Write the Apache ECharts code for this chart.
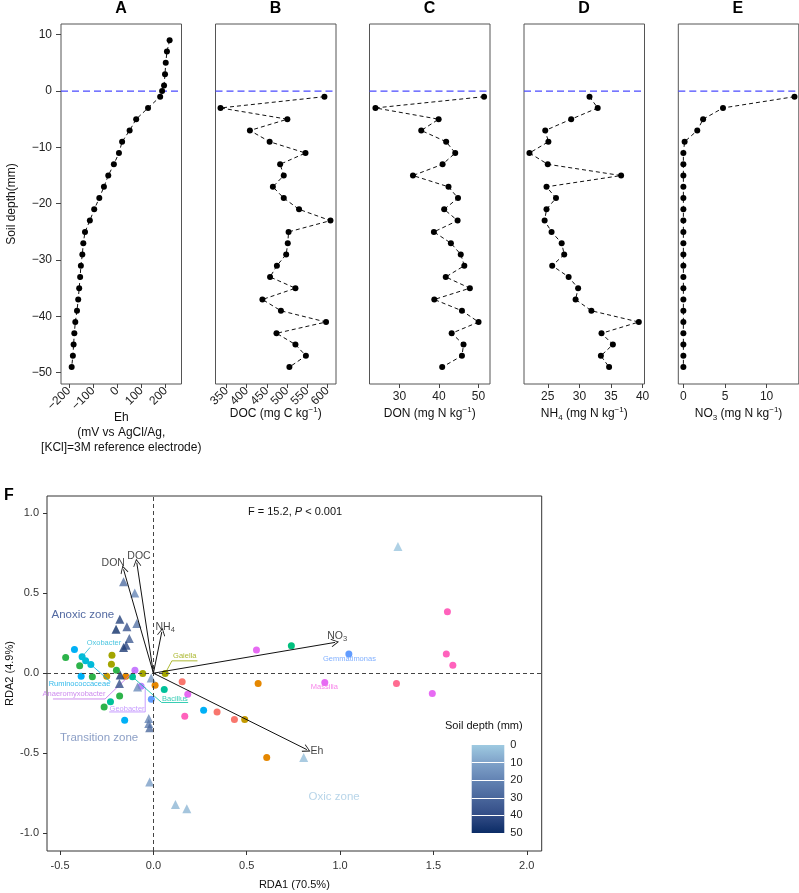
<!DOCTYPE html>
<html>
<head>
<meta charset="utf-8">
<script src="https://cdn.jsdelivr.net/npm/echarts@6/dist/echarts.min.js"></script>
<style>
html, body { margin: 0; padding: 0; background: #fff; }
#chart { width: 799px; height: 893px; }
</style>
</head>
<body>
<div id="chart"></div>
<script>
// ---- depth profiles (panels A-E) ----
const depthEh = [9, 7, 5, 3, 1, 0, -1, -3, -5, -7, -9, -11, -13, -15, -17, -19, -21, -23, -25, -27, -29, -31, -33, -35, -37, -39, -41, -43, -45, -47, -49];
const ehValues = [216, 205, 200, 197, 193, 185, 177, 127, 78, 51, 20, 7, -14, -37, -55, -74, -95, -113, -133, -140, -144, -150, -153, -157, -161, -166, -173, -177, -180, -183, -188];
const depthCore = [-1, -3, -5, -7, -9, -11, -13, -15, -17, -19, -21, -23, -25, -27, -29, -31, -33, -35, -37, -39, -41, -43, -45, -47, -49];
const docValues = [593, 335, 501, 408, 457, 546, 483, 492, 465, 492, 530, 608, 504, 502, 498, 475, 458, 521, 439, 485, 597, 474, 521, 547, 506];
const donValues = [51.4, 23.9, 39.9, 35.5, 41.8, 44.1, 40.9, 33.4, 42.4, 44.8, 41.3, 44.7, 38.7, 43.0, 45.5, 46.4, 41.7, 47.8, 38.8, 45.8, 50.0, 43.2, 46.2, 45.8, 40.8];
const nh4Values = [31.6, 32.9, 28.7, 24.6, 25.1, 22.1, 25.0, 36.6, 24.8, 26.3, 24.8, 24.5, 25.6, 27.2, 27.6, 25.7, 28.3, 29.8, 29.4, 31.9, 39.4, 33.5, 35.3, 33.4, 34.7];
const no3Values = [13.35, 4.76, 2.37, 1.67, 0.15, 0, 0, 0, 0, 0, 0, 0, 0, 0, 0, 0, 0, 0, 0, 0, 0, 0, 0, 0, 0];

const depthTicks = [10, 0, -10, -20, -30, -40, -50];
const ehTicks = [-200, -100, 0, 100, 200];
const docTicks = [350, 400, 450, 500, 550, 600];
const donTicks = [30, 40, 50];
const nh4Ticks = [25, 30, 35, 40];
const no3Ticks = [0, 5, 10];

// ---- RDA (panel F) ----
const envNames = ['DON', 'DOC', 'NH{sub|4}', 'NO{sub|3}', 'Eh'];
const envX = [-0.16, -0.089, 0.045, 0.973, 0.822];
const envY = [0.648, 0.69, 0.258, 0.192, -0.477];
const envLabelX = [-0.215, -0.077, 0.063, 0.984, 0.876];
const envLabelY = [0.686, 0.731, 0.289, 0.231, -0.4875];

const sampleX = [1.31, 0.805, 0.118, 0.179, -0.02, -0.025, -0.025, -0.02, -0.085, -0.012, -0.16, -0.10, -0.18, -0.20, -0.142, -0.089, -0.129, -0.146, -0.16, -0.178, -0.182];
const sampleY = [0.79, -0.527, -0.82, -0.846, -0.68, -0.283, -0.314, -0.34, -0.086, -0.03, 0.57, 0.50, 0.336, 0.275, 0.29, 0.31, 0.217, 0.175, 0.16, -0.012, -0.064];
const sampleDepth = [1, 3, 5, 5, 11, 19, 23, 29, 17, 15, 27, 19, 43, 49, 37, 25, 33, 41, 45, 47, 39];

const taxa = [
  { color: '#00B0F6', pts: [[-0.423, 0.148], [-0.387, -0.019], [-0.154, -0.294], [0.269, -0.231]] },
  { color: '#00BCD8', pts: [[-0.382, 0.102], [-0.363, 0.077], [-0.335, 0.054]] },
  { color: '#2DB34A', pts: [[-0.47, 0.098], [-0.395, 0.046], [-0.327, -0.023], [-0.198, 0.019], [-0.181, -0.142], [-0.264, -0.211]] },
  { color: '#00C19A', pts: [[-0.23, -0.179], [-0.112, -0.023], [0.058, -0.102]] },
  { color: '#A3A500', pts: [[-0.222, 0.1125], [-0.225, 0.056], [-0.057, -0.002], [0.063, -0.002]] },
  { color: '#C49A00', pts: [[-0.25, -0.019], [0.489, -0.289]] },
  { color: '#E58700', pts: [[-0.148, -0.019], [0.009, -0.075], [0.561, -0.064], [0.607, -0.527]] },
  { color: '#C77CFF', pts: [[-0.099, 0.019]] },
  { color: '#B983FF', pts: [[-0.066, -0.081]] },
  { color: '#619CFF', pts: [[-0.011, -0.1625], [1.047, 0.119]] },
  { color: '#F8766D', pts: [[0.154, -0.054], [0.341, -0.242], [0.434, -0.289]] },
  { color: '#FF6C91', pts: [[1.302, -0.064]] },
  { color: '#E76BF3', pts: [[0.184, -0.131], [0.552, 0.144], [0.918, -0.058], [1.494, -0.127]] },
  { color: '#FF62BC', pts: [[0.168, -0.269], [1.575, 0.383], [1.569, 0.119], [1.604, 0.05]] },
  { color: '#00BF7D', pts: [[0.739, 0.171]] }
];

const taxonLabels = [
  { text: 'Oxobacter', color: '#1FB8D8', at: [-0.265, 0.186], line: [[-0.339, 0.161], [-0.387, 0.096]] },
  { text: 'Ruminococcaceae', color: '#00A9E6', at: [-0.396, -0.069], line: [[-0.23, -0.054], [-0.335, 0.054]] },
  { text: 'Anaeromyxobacter', color: '#C06EEA', at: [-0.425, -0.131], line: [[-0.538, -0.161], [-0.259, -0.161], [-0.099, 0.019]] },
  { text: 'Geobacter', color: '#B983FF', at: [-0.141, -0.225], line: [[-0.237, -0.242], [-0.044, -0.242], [-0.044, -0.086]] },
  { text: 'Bacillus', color: '#00BFA0', at: [0.115, -0.1625], line: [[0.186, -0.183], [0.044, -0.183], [-0.112, -0.023]] },
  { text: 'Gaiella', color: '#99A800', at: [0.168, 0.106], line: [[0.236, 0.077], [0.099, 0.077], [0.063, -0.002]] },
  { text: 'Gemmatimonas', color: '#619CFF', at: [1.05, 0.0875], line: null },
  { text: 'Massilia', color: '#F564E3', at: [0.916, -0.0875], line: null }
];

const zoneNames = ['Anoxic zone', 'Transition zone', 'Oxic zone'];
const zoneX = [-0.378, -0.291, 0.968];
const zoneY = [0.3625, -0.404, -0.773];
const zoneColors = ['#27448A', '#6F87B8', '#A6CBE3'];

const rdaXTicks = [-0.5, 0, 0.5, 1.0, 1.5, 2.0];
const rdaYTicks = [-1.0, -0.5, 0, 0.5, 1.0];
const legendTicks = [0, 10, 20, 30, 40, 50];
const depthColors = ['#9ecae1', '#7fa2c9', '#6383b3', '#4a679c', '#324c86', '#0b2c66'];

const FONT = 'Liberation Sans, Arial, Helvetica, sans-serif';
const minus = v => String(v).replace('-', '\u2212');
const richAxis = {
  sup: { fontSize: 8, verticalAlign: 'top', lineHeight: 16, fontFamily: FONT, color: '#111' },
  sub: { fontSize: 8, verticalAlign: 'bottom', lineHeight: 16, fontFamily: FONT, color: '#111' }
};

const panels = [
  { x: ehValues, depth: depthEh, ticks: ehTicks, min: -232, max: 265, left: 61, rotate: 45, nameGap: 26,
    name: 'Eh\n(mV vs AgCl/Ag,\n[KCl]=3M reference electrode)', letter: 'A' },
  { x: docValues, depth: depthCore, ticks: docTicks, min: 322.6, max: 621.7, left: 215.5, rotate: 45, nameGap: 22,
    name: 'DOC (mg C kg{sup|\u22121})', letter: 'B' },
  { x: donValues, depth: depthCore, ticks: donTicks, min: 22.4, max: 52.9, left: 369.5, rotate: 0, nameGap: 22,
    name: 'DON (mg N kg{sup|\u22121})', letter: 'C' },
  { x: nh4Values, depth: depthCore, ticks: nh4Ticks, min: 21.24, max: 40.3, left: 524, rotate: 0, nameGap: 22,
    name: 'NH{sub|4} (mg N kg{sup|\u22121})', letter: 'D' },
  { x: no3Values, depth: depthCore, ticks: no3Ticks, min: -0.61, max: 13.87, left: 678.3, rotate: 0, nameGap: 22,
    name: 'NO{sub|3} (mg N kg{sup|\u22121})', letter: 'E' }
];
const PW = 120.5, PTOP = 24, PH = 360;

const grid = [], xAxis = [], yAxis = [], series = [], graphic = [];

panels.forEach((p, i) => {
  grid.push({ left: p.left, top: PTOP, width: PW, height: PH, show: true, borderColor: '#555', borderWidth: 1,
    outerBoundsMode: 'none' });
  xAxis.push({
    gridIndex: i, type: 'value', min: p.min, max: p.max, position: 'bottom',
    axisLine: { show: false, onZero: false }, splitLine: { show: false },
    axisTick: { show: true, length: 4, lineStyle: { color: '#444' }, customValues: p.ticks },
    axisLabel: { customValues: p.ticks, rotate: p.rotate, margin: p.rotate ? 5 : 7, fontSize: 12,
      color: '#222', fontFamily: FONT, formatter: minus },
    name: p.name, nameLocation: 'middle', nameGap: p.nameGap, nameMoveOverlap: false,
    nameTextStyle: { fontSize: 12, color: '#111', fontFamily: FONT, lineHeight: i === 0 ? 15 : 16, rich: richAxis }
  });
  yAxis.push({
    gridIndex: i, type: 'value', min: -52, max: 11.9, position: 'left',
    axisLine: { show: false, onZero: false }, splitLine: { show: false },
    axisTick: { show: i === 0, length: 5, lineStyle: { color: '#444' }, customValues: depthTicks },
    axisLabel: { show: i === 0, customValues: depthTicks, margin: 9, fontSize: 12, color: '#222',
      fontFamily: FONT, formatter: minus },
    name: i === 0 ? 'Soil depth(mm)' : '', nameLocation: 'middle', nameGap: 43, nameMoveOverlap: false,
    nameTextStyle: { fontSize: 12, color: '#111', fontFamily: FONT }
  });
  // blue dashed soil-surface line across the whole panel
  series.push({
    type: 'line', xAxisIndex: i, yAxisIndex: i, data: [[p.min, 0], [p.max, 0]],
    symbol: 'none', silent: true, color: '#4a4aff',
    lineStyle: { color: '#4a4aff', type: [7, 4], width: 1.2 }, z: 2
  });
  series.push({
    type: 'line', xAxisIndex: i, yAxisIndex: i,
    data: p.x.map((v, k) => [v, p.depth[k]]),
    symbol: 'circle', symbolSize: 6, showSymbol: true, color: '#000',
    itemStyle: { color: '#000' },
    lineStyle: { color: '#111', width: 1, type: [4, 3] },
    z: 3
  });
  graphic.push({
    type: 'text', left: p.left + PW / 2 - 6, top: 1,
    style: { text: p.letter, font: 'bold 16px ' + FONT, fill: '#000' }
  });
});

// ---- panel F ----
const FG = panels.length;
grid.push({ left: 47, top: 496, width: 494.7, height: 355, show: true, borderColor: '#333', borderWidth: 1,
  outerBoundsMode: 'none' });
xAxis.push({
  gridIndex: FG, type: 'value', min: -0.57, max: 2.08, position: 'bottom',
  axisLine: { show: false, onZero: false }, splitLine: { show: false },
  axisTick: { length: 4, lineStyle: { color: '#333' }, customValues: rdaXTicks },
  axisLabel: { customValues: rdaXTicks, margin: 9, fontSize: 11, color: '#333', fontFamily: FONT,
    formatter: v => v.toFixed(1) },
  name: 'RDA1 (70.5%)', nameLocation: 'middle', nameGap: 28, nameMoveOverlap: false,
  nameTextStyle: { fontSize: 11, color: '#111', fontFamily: FONT }
});
yAxis.push({
  gridIndex: FG, type: 'value', min: -1.11, max: 1.106, position: 'left',
  axisLine: { show: false, onZero: false }, splitLine: { show: false },
  axisTick: { length: 4, lineStyle: { color: '#333' }, customValues: rdaYTicks },
  axisLabel: { customValues: rdaYTicks, margin: 8, fontSize: 11, color: '#333', fontFamily: FONT,
    formatter: v => v.toFixed(1) },
  name: 'RDA2 (4.9%)', nameLocation: 'middle', nameGap: 32, nameMoveOverlap: false,
  nameTextStyle: { fontSize: 11, color: '#111', fontFamily: FONT }
});

// reference lines through the origin
const originLine = { color: '#444', type: [4, 3], width: 1 };
series.push({
  type: 'scatter', xAxisIndex: FG, yAxisIndex: FG, data: [], silent: true,
  markLine: {
    silent: true, symbol: 'none', label: { show: false },
    lineStyle: originLine,
    data: [{ xAxis: 0, lineStyle: originLine }, { yAxis: 0, lineStyle: originLine }]
  }
});

// circles (taxa)
taxa.forEach(t => {
  series.push({
    type: 'scatter', xAxisIndex: FG, yAxisIndex: FG, data: t.pts,
    symbol: 'circle', symbolSize: 7, itemStyle: { color: t.color, opacity: 1 }, z: 3
  });
});

// triangles (samples), coloured by depth
const triIndex = series.length;
series.push({
  type: 'scatter', xAxisIndex: FG, yAxisIndex: FG,
  data: sampleX.map((x, i) => [x, sampleY[i], sampleDepth[i]]),
  symbol: 'triangle', symbolSize: 9, z: 4
});

// environmental arrows
const arrowPath = 'path://M0,0 L10,13 L8.4,14 L0,3 L-8.4,14 L-10,13 Z';
series.push({
  type: 'lines', coordinateSystem: 'cartesian2d', xAxisIndex: FG, yAxisIndex: FG,
  symbol: ['none', arrowPath], symbolSize: 8,
  lineStyle: { color: '#111', width: 1, opacity: 1 },
  data: envX.map((x, i) => ({ coords: [[0, 0], [x, envY[i]]] })),
  z: 5, silent: true
});

// arrow labels
series.push({
  type: 'scatter', xAxisIndex: FG, yAxisIndex: FG, symbolSize: 0, silent: true, z: 6,
  itemStyle: { color: 'transparent' },
  data: envNames.map((n, i) => ({ value: [envLabelX[i], envLabelY[i]], name: n })),
  label: {
    show: true, position: 'inside', formatter: d => d.name, fontSize: 10.5, color: '#111', fontFamily: FONT,
    rich: { sub: { fontSize: 7.5, verticalAlign: 'bottom', lineHeight: 14, fontFamily: FONT, color: '#111' } }
  }
});

// taxon leader lines
taxonLabels.forEach(t => {
  if (!t.line) return;
  series.push({
    type: 'line', xAxisIndex: FG, yAxisIndex: FG, data: t.line, symbol: 'none', silent: true,
    lineStyle: { color: t.color, width: 0.8 }, z: 4
  });
});

// taxon labels
series.push({
  type: 'scatter', xAxisIndex: FG, yAxisIndex: FG, symbolSize: 0, silent: true, z: 6,
  itemStyle: { color: 'transparent' },
  data: taxonLabels.map(t => ({ value: t.at, name: t.text, label: { color: t.color } })),
  label: { show: true, position: 'inside', formatter: d => d.name, fontSize: 7.5, fontFamily: FONT }
});

// zone labels
series.push({
  type: 'scatter', xAxisIndex: FG, yAxisIndex: FG, symbolSize: 0, silent: true, z: 6,
  itemStyle: { color: 'transparent' },
  data: zoneNames.map((n, i) => ({ value: [zoneX[i], zoneY[i]], name: n, label: { color: zoneColors[i] } })),
  label: { show: true, position: 'inside', formatter: d => d.name, fontSize: 11.5, fontFamily: FONT }
});

// ---- colour bar legend ----
const LG = FG + 1;
grid.push({ left: 471.7, top: 745, width: 32.6, height: 88, show: false, outerBoundsMode: 'none' });
xAxis.push({ gridIndex: LG, type: 'category', data: ['depth'], show: false });
yAxis.push({
  gridIndex: LG, type: 'value', min: 0, max: 50, inverse: true, position: 'right',
  axisLine: { show: false }, axisTick: { show: false }, splitLine: { show: false },
  axisLabel: { customValues: legendTicks, margin: 6, fontSize: 11, color: '#222', fontFamily: FONT }
});
const whiteTick = { color: '#fff', type: 'solid', width: 1 };
series.push({
  type: 'bar', xAxisIndex: LG, yAxisIndex: LG, data: [50], barWidth: '100%', silent: true,
  itemStyle: {
    color: new echarts.graphic.LinearGradient(0, 0, 0, 1,
      depthColors.map((c, i) => ({ offset: i / (depthColors.length - 1), color: c })))
  },
  markLine: {
    silent: true, symbol: 'none', label: { show: false },
    lineStyle: whiteTick,
    data: legendTicks.slice(1, -1).map(v => ({ yAxis: v, lineStyle: whiteTick }))
  }
});

graphic.push(
  { type: 'text', left: 4, top: 488, style: { text: 'F', font: 'bold 16px ' + FONT, fill: '#000' } },
  { type: 'text', left: 445, top: 720, style: { text: 'Soil depth (mm)', font: '11px ' + FONT, fill: '#111' } },
  {
    type: 'text', left: 248, top: 506,
    style: {
      text: 'F = 15.2, {i|P} < 0.001', font: '11px ' + FONT, fill: '#111',
      rich: { i: { fontStyle: 'italic', fontSize: 11, fontFamily: FONT, fill: '#111' } }
    }
  }
);

const chart = echarts.init(document.getElementById('chart'));
chart.setOption({
  animation: false,
  backgroundColor: '#fff',
  grid, xAxis, yAxis, series, graphic,
  visualMap: {
    type: 'continuous', show: false, seriesIndex: triIndex, dimension: 2,
    min: 0, max: 50, inRange: { color: depthColors }
  }
});
</script>
</body>
</html>
